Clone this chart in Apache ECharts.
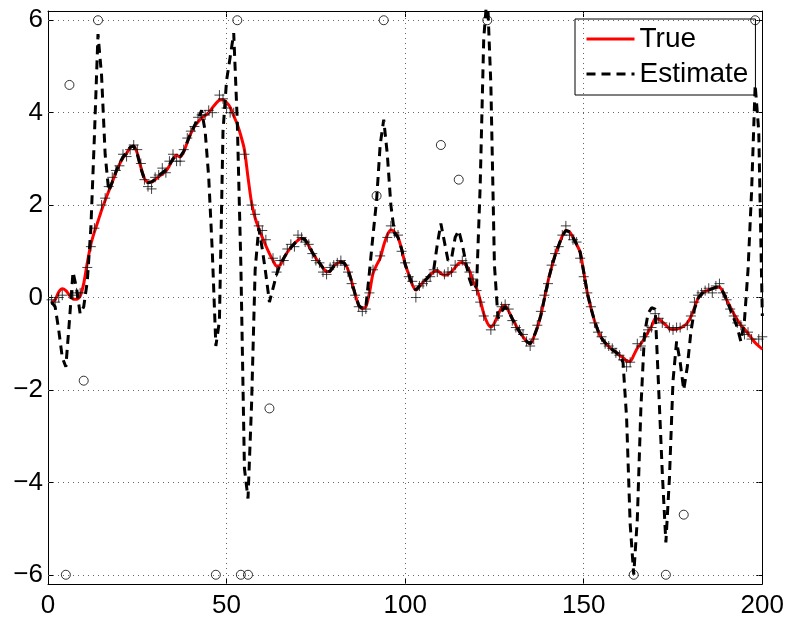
<!DOCTYPE html>
<html>
<head>
<meta charset="utf-8">
<script src="https://cdn.jsdelivr.net/npm/echarts@6/dist/echarts.min.js"></script>
<style>
  html, body { margin: 0; padding: 0; background: #fff; }
  #chart { width: 787px; height: 619px; }
</style>
</head>
<body>
<div id="chart"></div>
<script>
// Sample index k = 1..200
const steps = Array.from({ length: 200 }, (_, i) => i + 1);

// Underlying signal
const trueY = [
  -0.12, -0.05, 0.12, 0.19, 0.15, 0.05, -0.03, -0.04, 0.03, 0.3,
  0.75, 1.15, 1.42, 1.65, 1.89, 2.1, 2.3, 2.5, 2.7, 2.88,
  3.02, 3.12, 3.24, 3.28, 3.12, 2.82, 2.58, 2.5, 2.5, 2.55,
  2.62, 2.67, 2.73, 2.85, 3.0, 3.08, 3.04, 3.15, 3.36, 3.55,
  3.7, 3.8, 3.88, 3.94, 4.0, 4.1, 4.2, 4.27, 4.28, 4.22,
  4.12, 3.93, 3.75, 3.5, 3.2, 2.6, 2.05, 1.72, 1.5, 1.3,
  1.12, 0.95, 0.8, 0.68, 0.7, 0.85, 0.98, 1.08, 1.17, 1.24,
  1.28, 1.25, 1.12, 0.98, 0.85, 0.75, 0.64, 0.56, 0.57, 0.68,
  0.74, 0.77, 0.74, 0.6, 0.35, 0.07, -0.17, -0.24, -0.2, 0.1,
  0.52, 0.7, 0.85, 1.13, 1.35, 1.46, 1.42, 1.3, 1.05, 0.72,
  0.5, 0.28, 0.16, 0.24, 0.33, 0.4, 0.48, 0.56, 0.58, 0.52,
  0.48, 0.5, 0.56, 0.65, 0.74, 0.76, 0.7, 0.58, 0.35, 0.2,
  -0.05, -0.35, -0.55, -0.64, -0.55, -0.38, -0.22, -0.18, -0.3, -0.46,
  -0.6, -0.74, -0.85, -0.95, -1.0, -0.86, -0.65, -0.38, -0.02, 0.35,
  0.65, 0.92, 1.13, 1.33, 1.45, 1.42, 1.3, 1.15, 0.98, 0.55,
  0.1, -0.22, -0.5, -0.72, -0.88, -0.98, -1.06, -1.13, -1.18, -1.25,
  -1.3, -1.37, -1.38, -1.25, -1.1, -1.0, -0.88, -0.75, -0.62, -0.46,
  -0.47, -0.53, -0.6, -0.67, -0.69, -0.68, -0.66, -0.62, -0.55, -0.42,
  -0.22, -0.02, 0.08, 0.13, 0.16, 0.19, 0.22, 0.22, 0.12, -0.05,
  -0.2, -0.35, -0.48, -0.6, -0.68, -0.78, -0.88, -0.98, -1.05, -1.12
];

// Filter output
const estY = [
  -0.1, -0.2, -0.7, -1.3, -1.5, -0.5, 0.55, 0.2, -0.35, -0.2,
  0.35, 1.5, 3.5, 5.7, 4.8, 3.1, 2.3, 2.5, 2.72, 2.9,
  3.04, 3.14, 3.25, 3.28, 3.1, 2.8, 2.55, 2.48, 2.5, 2.56,
  2.64, 2.7, 2.76, 2.87, 3.0, 3.07, 3.05, 3.16, 3.37, 3.56,
  3.72, 3.85, 4.05, 3.6, 2.6, 1.0, -1.05, -0.5, 3.6, 4.7,
  5.2, 5.72, 3.8, 0.7, -3.7, -4.35, -2.3, 0.6, 1.5, 1.05,
  0.5, -0.1, 0.2, 0.5, 0.72, 0.85, 0.98, 1.08, 1.17, 1.24,
  1.28, 1.25, 1.12, 0.98, 0.85, 0.75, 0.64, 0.56, 0.57, 0.68,
  0.74, 0.77, 0.74, 0.6, 0.35, 0.07, -0.17, -0.24, -0.2, 0.55,
  1.35, 2.1, 3.3, 3.85, 3.1, 2.0, 1.4, 1.3, 1.05, 0.72,
  0.5, 0.28, 0.16, 0.25, 0.35, 0.4, 0.5, 0.6, 1.15, 1.6,
  1.2, 0.8, 0.85, 1.3, 1.45, 1.15, 0.75, 0.4, 0.18, 0.25,
  2.4, 5.6, 6.6, 4.6, 0.7, -0.45, -0.3, -0.2, -0.3, -0.46,
  -0.6, -0.74, -0.85, -0.95, -1.0, -0.86, -0.65, -0.38, -0.02, 0.35,
  0.65, 0.92, 1.13, 1.33, 1.45, 1.42, 1.3, 1.15, 0.98, 0.55,
  0.1, -0.22, -0.5, -0.72, -0.88, -0.98, -1.06, -1.13, -1.18, -1.25,
  -1.4, -2.6, -4.9, -6.0, -4.8, -2.4, -0.8, -0.35, -0.22, -0.25,
  -2.0, -3.8, -5.3, -3.9, -1.8, -0.95, -1.4, -2.0, -1.5, -0.75,
  -0.25, -0.02, 0.08, 0.13, 0.16, 0.19, 0.22, 0.22, 0.12, -0.05,
  -0.25, -0.45, -0.65, -0.95, -0.5, 0.6, 2.3, 4.6, 3.6, -0.4
];

// Good measurements (null where the sample is an outlier)
const measY = [
  -0.05, -0.1, 0.0, 0.05, null, null, 0.05, 0.1, 0.1, null,
  0.65, 1.1, 1.5, null, 2.0, 2.15, 2.4, 2.6, 2.75, 2.85,
  3.1, 3.05, 3.2, 3.3, 3.2, 2.9, 2.55, 2.4, 2.35, 2.6,
  2.65, 2.8, 2.7, 2.95, 3.1, 2.95, 2.95, 3.2, 3.45, 3.6,
  3.7, 3.9, 3.95, 3.95, 4.05, 4.0, null, 4.38, 4.3, 4.1,
  4.0, 4.0, null, null, 3.1, null, 2.0, 1.8, 1.55, 1.45,
  1.25, null, 0.85, 0.55, 0.8, 0.8, 1.05, 1.15, 1.1, 1.35,
  1.3, 1.2, 1.15, 0.95, 0.8, 0.75, 0.55, 0.5, 0.65, 0.7,
  0.75, 0.8, 0.7, 0.55, 0.3, 0.05, -0.2, -0.3, -0.25, 0.1,
  0.6, null, 0.9, null, 1.3, 1.55, 1.4, 1.35, 1.0, 0.75,
  0.45, 0.35, 0.0, 0.25, 0.3, 0.35, 0.45, 0.6, 0.55, null,
  0.5, 0.55, 0.55, 0.7, null, 0.8, 0.75, 0.55, 0.4, 0.15,
  -0.1, -0.4, null, -0.7, -0.6, -0.4, -0.2, -0.15, -0.25, -0.5,
  -0.65, -0.7, -0.8, -0.95, -1.05, -0.9, -0.6, -0.3, 0.05, 0.3,
  0.7, 0.95, 1.1, 1.35, 1.55, 1.35, 1.25, 1.2, 0.85, 0.45,
  0.1, -0.2, -0.55, -0.75, -0.85, -1.0, -1.05, -1.1, -1.2, -1.25,
  -1.35, -1.5, -1.4, null, -1.0, -1.05, -0.85, -0.7, -0.65, -0.35,
  -0.45, -0.55, null, -0.65, -0.7, -0.65, -0.65, null, -0.6, -0.4,
  -0.1, 0.05, 0.1, 0.15, 0.2, 0.1, 0.25, 0.3, 0.1, -0.05,
  -0.25, -0.4, -0.55, -0.6, -0.8, -0.75, -0.9, null, -0.9, -0.85
];

// Outlier samples (clipped to +/-6)
const outX = [5, 6, 10, 14, 47, 53, 54, 56, 62, 92, 94, 110, 115, 123, 164, 173, 178, 198];
const outY = [-6, 4.6, -1.8, 6, -6, 6, -6, -6, -2.4, 2.2, 6, 3.3, 2.55, 6, -6, -6, -4.7, 6];

// Axis ticks
const xTicks = [0, 50, 100, 150, 200];
const yTicks = [-6, -4, -2, 0, 2, 4, 6];

const pair = (ys) => steps.map((x, i) => [x, ys[i]]);
const measPts = steps.map((x, i) => [x, measY[i]]).filter(p => p[1] !== null);
const outPts = outX.map((x, i) => [x, outY[i]]);

const FONT = '"Liberation Sans", Arial, Helvetica, sans-serif';
const fmtMinus = v => String(v).replace('-', '\u2212');

const chart = echarts.init(document.getElementById('chart'), null, { renderer: 'canvas' });

chart.setOption({
  animation: false,
  backgroundColor: '#fff',
  grid: { left: 48, top: 11, right: 24.3, bottom: 35, containLabel: false },
  xAxis: [
    {
      type: 'value', min: 0, max: 200, interval: 50, position: 'bottom',
      axisLine: { show: true, onZero: false, lineStyle: { color: '#000', width: 1 } },
      axisTick: { show: true, inside: true, length: 6, lineStyle: { color: '#000' } },
      axisLabel: { color: '#000', fontSize: 26, fontFamily: FONT, margin: 9 },
      splitLine: { show: false }
    },
    {
      type: 'value', min: 0, max: 200, interval: 50, position: 'top',
      axisLine: { show: true, onZero: false, lineStyle: { color: '#000', width: 1 } },
      axisTick: { show: true, inside: true, length: 6, lineStyle: { color: '#000' } },
      axisLabel: { show: false },
      splitLine: { show: false }
    }
  ],
  yAxis: [
    {
      type: 'value', min: -6.2, max: 6.2, position: 'left',
      axisLine: { show: true, onZero: false, lineStyle: { color: '#000', width: 1 } },
      axisTick: { show: true, inside: true, length: 6, customValues: yTicks, lineStyle: { color: '#000' } },
      axisLabel: { color: '#000', fontSize: 26, fontFamily: FONT, margin: 5, customValues: yTicks, formatter: fmtMinus },
      splitLine: { show: false }
    },
    {
      type: 'value', min: -6.2, max: 6.2, position: 'right',
      axisLine: { show: true, onZero: false, lineStyle: { color: '#000', width: 1 } },
      axisTick: { show: true, inside: true, length: 6, customValues: yTicks, lineStyle: { color: '#000' } },
      axisLabel: { show: false },
      splitLine: { show: false }
    }
  ],
  legend: {
    data: ['True', 'Estimate'],
    orient: 'vertical',
    left: 575, top: 19,
    padding: [6, 7, 7, 10],
    itemGap: 7,
    itemWidth: 48,
    itemHeight: 28,
    selectedMode: false,
    backgroundColor: '#fff',
    borderColor: '#000',
    borderWidth: 1,
    borderRadius: 0,
    itemStyle: { opacity: 0 },
    lineStyle: { width: 3 },
    textStyle: { color: '#000', fontSize: 28, fontFamily: FONT }
  },
  series: [
    {
      // dotted grid
      name: 'grid', type: 'line', data: [], silent: true, z: 1,
      markLine: {
        silent: true, symbol: 'none', label: { show: false },
        lineStyle: { color: '#666', width: 1, type: [1, 4] },
        data: xTicks.slice(1, -1).map(v => ({ xAxis: v }))
          .concat(yTicks.map(v => ({ yAxis: v })))
      }
    },
    {
      name: 'True', type: 'line', data: pair(trueY), z: 3,
      symbol: 'none', showSymbol: false, smooth: 0.25,
      lineStyle: { color: '#ff0000', width: 3 },
      itemStyle: { color: '#ff0000' }
    },
    {
      name: 'Measured', type: 'scatter', data: measPts, z: 4,
      symbol: 'path://M0,5L10,5M5,0L5,10', symbolSize: 10,
      itemStyle: { color: 'none', borderColor: '#111', borderWidth: 1 }
    },
    {
      name: 'Estimate', type: 'line', data: pair(estY), z: 5,
      symbol: 'none', showSymbol: false,
      lineStyle: { color: '#000', width: 3, type: [9, 6] },
      itemStyle: { color: '#000' }
    },
    {
      name: 'Outliers', type: 'scatter', data: outPts, z: 6,
      symbol: 'circle', symbolSize: 9,
      itemStyle: { color: 'none', borderColor: '#000', borderWidth: 1 }
    }
  ]
});
</script>
</body>
</html>
